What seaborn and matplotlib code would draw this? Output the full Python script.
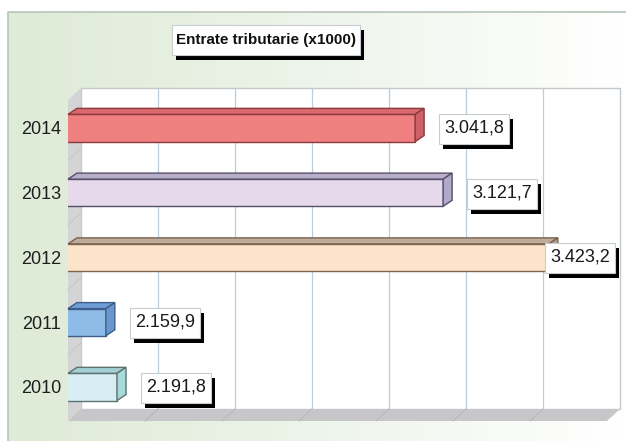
import numpy as np
import pandas as pd
import matplotlib
matplotlib.use("Agg")
import matplotlib.pyplot as plt
import seaborn as sns
from matplotlib.patches import Polygon, Rectangle
from matplotlib.colors import LinearSegmentedColormap

# ---- data -------------------------------------------------------------
years = ["2014", "2013", "2012", "2011", "2010"]
values = [3041.8, 3121.7, 3423.2, 2159.9, 2191.8]
value_labels = ["3.041,8", "3.121,7", "3.423,2", "2.159,9", "2.191,8"]
title = "Entrate tributarie (x1000)"

# ---- colours ----------------------------------------------------------
front_colors = ["#F07F80", "#E5D9EB", "#FDE3C9", "#8EBBE8", "#D6EEF4"]
top_colors = ["#D9696D", "#B9AFCB", "#BDAC9C", "#6F9DD8", "#A0D0D2"]
side_colors = ["#CF6168", "#B1A9C9", "#B4A192", "#6A96CF", "#A7DADA"]
edge_colors = ["#8A3A3E", "#55506A", "#7A6450", "#3E5E88", "#5E7070"]

sns.set_theme(style="white")
plt.rcParams["font.family"] = ["Liberation Sans", "DejaVu Sans"]

W, H, DPI = 626, 441, 100
fig = plt.figure(figsize=(W / DPI, H / DPI), dpi=DPI)
fig.patch.set_facecolor("white")

# ---- background panel (pixel coordinates) -----------------------------
bg = fig.add_axes([0, 0, 1, 1], zorder=-10)
grad = np.linspace(0, 1, 256).reshape(1, -1)
cmap = LinearSegmentedColormap.from_list(
    "panel", ["#DEEBD6", "#E8F1E3", "#F3F8F1", "#FFFFFF"])
bg.imshow(grad, extent=(8, W, H, 12), cmap=cmap, aspect="auto",
          interpolation="bilinear")
bg.plot([8, 8, W], [H, 12, 12], color="#B7C3B7", lw=1.2)
bg.set_xlim(0, W)
bg.set_ylim(H, 0)
bg.axis("off")

# ---- main axes: the front plane of the 3D box -------------------------
L, R, T, B = 68, 607, 100, 421
ax = fig.add_axes([L / W, 1 - B / H, (R - L) / W, (B - T) / H])
ax.patch.set_alpha(0)

df = pd.DataFrame({"year": years, "value": values})
sns.barplot(data=df, x="value", y="year", hue="year", palette=front_colors,
            orient="h", width=0.42, legend=False, ax=ax, zorder=5,
            linewidth=1.0, saturation=1)
bars = [p for p in ax.patches if isinstance(p, Rectangle)]

XMIN, XMAX = 2052, 3589
ax.set_xlim(XMIN, XMAX)
ax.set_ylim(4.526, -0.432)
ax.set_xlabel("")
ax.set_ylabel("")
ax.set_xticks([])
for s in ax.spines.values():
    s.set_visible(False)
ax.tick_params(axis="y", length=0, pad=5, labelsize=13, labelcolor="#1e1e1e")

to_disp = ax.transData.transform
to_data = ax.transData.inverted().transform


def poly(points, **kw):
    ax.add_patch(Polygon(to_data(np.asarray(points, float)), closed=True,
                         clip_on=False, **kw))


def seg(p, q, **kw):
    d = to_data(np.asarray([p, q], float))
    ax.plot(d[:, 0], d[:, 1], clip_on=False, **kw)


def rect_px(x, y, w, h):
    return [(x, y), (x + w, y), (x + w, y + h), (x, y + h)]


# walls and floor
DX, DY = 13, 12
x0, y0, x1, y1 = ax.bbox.x0, ax.bbox.y0, ax.bbox.x1, ax.bbox.y1
poly(rect_px(x0 + DX, y0 + DY, x1 - x0, y1 - y0), facecolor="white",
     edgecolor="#C2CAD0", lw=1.0, zorder=1)
poly([(x0, y0), (x0 + DX, y0 + DY), (x0 + DX, y1 + DY), (x0, y1)],
     facecolor="#D4D4D6", edgecolor="none", zorder=1)
poly([(x0, y0), (x1, y0), (x1 + DX, y0 + DY), (x0 + DX, y0 + DY)],
     facecolor="#C7C7C9", edgecolor="none", zorder=1)

# gridlines on back wall and floor
for xv in np.linspace(XMIN, XMAX, 8)[1:-1]:
    px = to_disp((xv, 0))[0]
    seg((px + DX, y0 + DY), (px + DX, y1 + DY), color="#B9CEDD", lw=0.9,
        zorder=1.5)
    seg((px, y0), (px + DX, y0 + DY), color="#B9B9BC", lw=0.8, zorder=1.5)
for yv in np.arange(len(years) - 1) + 0.5:
    py = to_disp((XMIN, yv))[1]
    seg((x0, py), (x0 + DX, py + DY), color="#C6C6C9", lw=0.7, zorder=1.5)

# 3D faces of the bars
bdx, bdy = 9, 6
for patch in bars:
    yc = patch.get_y() + patch.get_height() / 2
    i = int(round(yc))
    ec = edge_colors[i]
    patch.set_edgecolor(ec)
    xa = max(patch.get_x(), XMIN)
    xb = patch.get_x() + patch.get_width()
    (lx, ya), (rx, yb) = to_disp([(xa, patch.get_y()),
                                  (xb, patch.get_y() + patch.get_height())])
    ty, by = max(ya, yb), min(ya, yb)
    poly([(lx, ty), (rx, ty), (rx + bdx, ty + bdy), (lx + bdx, ty + bdy)],
         facecolor=top_colors[i], edgecolor=ec, lw=1.0, zorder=5)
    poly([(rx, by), (rx, ty), (rx + bdx, ty + bdy), (rx + bdx, by + bdy)],
         facecolor=side_colors[i], edgecolor=ec, lw=1.0, zorder=5)

# value labels in shadowed boxes
renderer = fig.canvas.get_renderer()
limit_px = x1 + DX - 10
SHX, SHY = 4, -5
for i, (v, lab) in enumerate(zip(values, value_labels)):
    bx, byc = to_disp((v, i))
    t = ax.text(*to_data((bx + 29, byc)), lab, ha="left", va="center",
                fontsize=13, color="#1a1a1a", zorder=10, clip_on=False)
    ext = t.get_window_extent(renderer=renderer)
    if ext.x1 > limit_px:
        t.set_position(to_data((limit_px, byc)))
        t.set_horizontalalignment("right")
        ext = t.get_window_extent(renderer=renderer)
    bw, bh = ext.width + 10, 30
    bxl, byl = ext.x0 - 5, byc - bh / 2 - 1
    poly(rect_px(bxl + SHX, byl + SHY, bw, bh), facecolor="black",
         edgecolor="none", zorder=9)
    poly(rect_px(bxl, byl, bw, bh), facecolor="white", edgecolor="#C8CCD0",
         lw=0.8, zorder=9.5)

# title box
tt = fig.text(265.5 / W, 1 - 40 / H, title, ha="center", va="center",
              fontsize=11, fontweight="bold", color="#111111", zorder=5)
te = tt.get_window_extent(renderer=renderer)
tw, th = te.width + 8, 30
tx, ty_top = 265.5 - tw / 2, 40 - th / 2
bg.add_patch(Rectangle((tx + 4, ty_top + 5), tw, th, facecolor="black",
                       edgecolor="none", zorder=3))
bg.add_patch(Rectangle((tx, ty_top), tw, th, facecolor="white",
                       edgecolor="#C8CCD0", lw=0.8, zorder=4))

fig.savefig("out.png", dpi=DPI)
